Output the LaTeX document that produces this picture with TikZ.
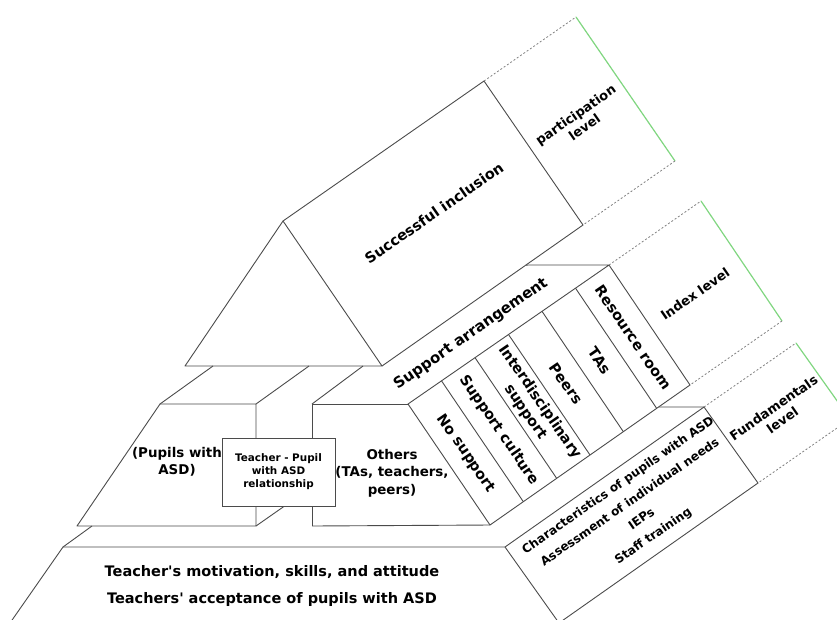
\documentclass[tikz,border=0pt]{standalone}
\usepackage{fontspec}
\setmainfont{DejaVu Sans}
\usetikzlibrary{calc}
\definecolor{edgegray}{RGB}{75,75,75}
\definecolor{levelgreen}{RGB}{128,214,128}
\tikzset{
x=1pt, y=-1pt, % pixel-like units, y grows downwards
wall/.style={draw=edgegray, line width=0.9pt, line join=round}, % solid edges of the pyramid
lvldash/.style={draw=gray, line width=0.8pt, dash pattern=on 2pt off 2pt}, % open edges of the level boxes
lvlside/.style={draw=levelgreen, line width=1.2pt}, % far edge of the level boxes
tag/.style={align=center, inner sep=0pt, font=\bfseries\fontsize{14.5}{17.5}\selectfont}, % every label
deep/.style={tag, rotate=34.8}, % text along the depth direction
steep/.style={tag, rotate=-55.5}, % text down the sloping face
}

\begin{document}
\begin{tikzpicture}
\useasboundingbox (0,0) rectangle (837,619);
\clip (0,0) rectangle (837,619);

% top tier
\coordinate (apex) at (283,221);
\coordinate (triL) at (185,366);
\coordinate (triR) at (382,366);
\coordinate (ridge) at (484,81);
\coordinate (incB) at (583,225);
\coordinate (partT) at (576,17);
\coordinate (partB) at (675,161);
% middle tier
\coordinate (saB) at ($(triR)!0.716!(incB)$);
\coordinate (supTL) at (408,404);
\coordinate (supTR) at (609,265);
\coordinate (supBR) at (690,385);
\coordinate (supBL) at (490,525);
\coordinate (idxT) at (701,201);
\coordinate (idxB) at (782,321);
\coordinate (pupTL) at (160,404);
\coordinate (pupTR) at (256,404);
\coordinate (pupBR) at (256,526);
\coordinate (pupBL) at (77,526);
\coordinate (othTL) at (312,404);
\coordinate (othBL) at (312,526);
% base
\coordinate (baseTL) at (63,547);
\coordinate (baseBL) at (10,623);
\coordinate (chL) at (505,547);
\coordinate (chT) at (704,407);
\coordinate (chR) at (758,483);
\coordinate (chB) at (559,623);
\coordinate (fundT) at (796,343);
\coordinate (fundB) at (850,419);
\coordinate (ledge) at ($(supBL)!0.843!(supBR)$);

% top tier
\draw[wall] (triL) -- (apex) -- (triR) -- cycle;
\draw[wall] (apex) -- (ridge) -- (incB) -- (triR);
\draw[lvldash] (ridge) -- (partT);
\draw[lvlside] (partT) -- (partB);
\draw[lvldash] (partB) -- (incB);

% middle tier
\draw[wall] (saB) -- (supTR) -- (supTL) -- (supBL) -- (supBR) -- (supTR);
\foreach \i in {1,...,5}
  \draw[wall] ($(supTL)!\i/6!(supTR)$) -- ($(supBL)!\i/6!(supBR)$);
\draw[lvldash] (supTR) -- (idxT);
\draw[lvlside] (idxT) -- (idxB);
\draw[lvldash] (idxB) -- (supBR);
\draw[wall] (pupTL) -- (pupTR) -- (pupBR) -- (pupBL) -- cycle;
\draw[wall] (pupTL) -- (213,366);
\draw[wall] (pupTR) -- (309,366);
\draw[wall] (pupBR) -- (286,505);
\draw[wall] (othBL) -- (othTL) -- (supTL);
\draw[wall] (othBL) -- (supBL);
\draw[wall] (othTL) -- (363,366);
\draw[wall] (ledge) -- (chT);

% base
\draw[wall] (baseBL) -- (baseTL) -- (chL) -- (chB);
\draw[wall] (baseTL) -- (92,526);
\draw[wall] (chL) -- (chT) -- (chR) -- (chB);
\draw[lvldash] (chT) -- (fundT);
\draw[lvlside] (fundT) -- (fundB);
\draw[lvldash] (fundB) -- (chR);

% labels
\node[deep] (incl) at (434,213) {Successful inclusion};
\node[deep, font=\bfseries\fontsize{13}{15.5}\selectfont] (part) at (580,121) {participation\\level};
\node[deep, font=\bfseries\fontsize{15}{18}\selectfont] (arr) at (471,334) {Support arrangement};
\node[deep, font=\bfseries\fontsize{13}{15.5}\selectfont] (idx) at (695,294) {Index level};
\node[deep, font=\bfseries\fontsize{13}{15.5}\selectfont] (fund) at (778,414) {Fundamentals\\level};
\node[deep, font=\bfseries\fontsize{12}{20.5}\selectfont] (char) at (636,511)
  {Characteristics of pupils with ASD\\Assessment of individual needs\\IEPs\\Staff training};
\foreach \txt [count=\i from 0] in {No support, Support culture, {Interdisciplinary\\support}, Peers, TAs, Resource room}
  \node[steep] (strip\i) at ($(supTL)!{(\i+0.5)/6}!(supTR) + (41,61)$) {\txt};
\node[tag, font=\bfseries\fontsize{13.4}{17}\selectfont] (pup) at (177,462) {(Pupils with\\ASD)};
\node[tag, font=\bfseries\fontsize{13.4}{17.5}\selectfont] (oth) at (392,473) {Others\\(TAs, teachers,\\peers)};
\node[draw=edgegray, fill=white, line width=0.9pt, minimum width=113pt, minimum height=68pt,
  align=center, inner sep=0pt, font=\bfseries\fontsize{10.4}{13}\selectfont] (rel) at (278.5,472)
  {Teacher - Pupil\\with ASD\\relationship};
\node[tag] (base) at (272,586) {Teacher\textquotesingle s motivation, skills, and attitude\\[10pt]Teachers\textquotesingle\ acceptance of pupils with ASD};
\end{tikzpicture}
\end{document}
